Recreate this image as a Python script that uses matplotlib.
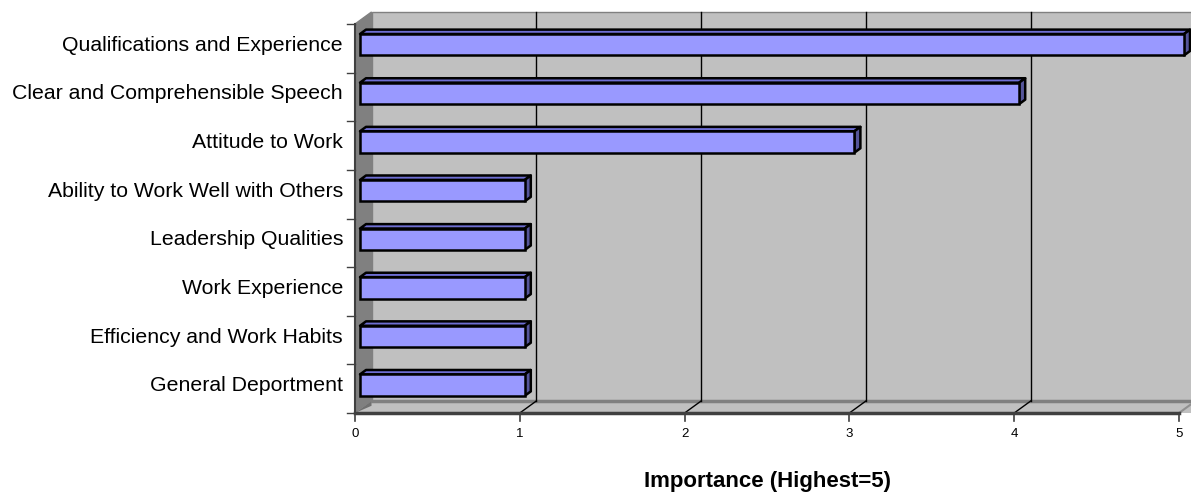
import numpy as np
import matplotlib.pyplot as plt
from matplotlib.patches import Polygon, Rectangle

plt.rcParams['font.family'] = ['Liberation Sans', 'DejaVu Sans']

categories = [
    "Qualifications and Experience",
    "Clear and Comprehensible Speech",
    "Attitude to Work",
    "Ability to Work Well with Others",
    "Leadership Qualities",
    "Work Experience",
    "Efficiency and Work Habits",
    "General Deportment",
]
importance = [5, 4, 3, 1, 1, 1, 1, 1]
xticks = [0, 1, 2, 3, 4, 5]

W, H, DPI = 1191, 496, 100
fig = plt.figure(figsize=(W / DPI, H / DPI), dpi=DPI)
# front plane of the 3D box
left, right, top, bottom = 355, 1179, 24, 413
ax = fig.add_axes([left / W, 1 - bottom / H, (right - left) / W, (bottom - top) / H])

n = len(categories)
xmax = 5
ax.set_xlim(0, xmax)
ax.set_ylim(-0.5, n - 0.5)
ypos = np.arange(n)[::-1]  # first category on top

# pixel -> data units
ux = xmax / (right - left)
uy = n / (bottom - top)

# depth of the walls and of the bars
DX, DY = 16.5 * ux, 12 * uy
bx0, by0 = 5 * ux, 3.6 * uy
bdx, bdy = 6 * ux, 4.4 * uy
bh = 0.44

ax.set_axis_off()

y0, y1 = -0.5, n - 0.5
# back wall
ax.add_patch(Rectangle((DX, y0 + DY), xmax + 1, n, facecolor="#C0C0C0",
                       edgecolor="#808080", lw=1, clip_on=False, zorder=1))
# side wall
ax.add_patch(Polygon([(0, y0), (DX, y0 + DY), (DX, y1 + DY), (0, y1)],
                     closed=True, facecolor="#808080", edgecolor="#808080",
                     lw=1, clip_on=False, zorder=2))
# floor
ax.add_patch(Polygon([(0, y0), (xmax + 1, y0), (xmax + 1, y0 + DY), (DX, y0 + DY)],
                     closed=True, facecolor="#C0C0C0", edgecolor="none",
                     clip_on=False, zorder=2))
ax.add_patch(Polygon([(0, y0), (DX, y0 + DY), (DX, y0 + DY * 0.6)],
                     closed=True, facecolor="#707070", edgecolor="none",
                     clip_on=False, zorder=2))
ax.plot([DX, xmax + 1], [y0 + DY, y0 + DY], color="#808080", lw=2.5,
        clip_on=False, zorder=3)
ax.plot([xmax, xmax + DX], [y0, y0 + DY], color="#909090", lw=1.5,
        clip_on=False, zorder=3)

# gridlines on back wall and floor
for t in xticks[1:]:
    ax.plot([t + DX, t + DX], [y0 + DY, y1 + DY], color="black", lw=1,
            clip_on=False, zorder=3)
    if t < xmax:
        ax.plot([t, t + DX], [y0, y0 + DY], color="black", lw=1,
                clip_on=False, zorder=3)

# axis lines and ticks
ax.plot([0, xmax], [y0, y0], color="#404040", lw=2.5, clip_on=False, zorder=4)
ax.plot([0, 0], [y0, y1], color="#404040", lw=1.5, clip_on=False, zorder=4)
for t in xticks:
    ax.plot([t, t], [y0, y0 - 8 * uy], color="#404040", lw=1.2,
            clip_on=False, zorder=4)
    ax.text(t, y0 - 21 * uy, str(t), ha="center", va="center", fontsize=9.5)
for b in np.arange(n + 1) - 0.5:
    ax.plot([0, -8 * ux], [b, b], color="#404040", lw=1, clip_on=False, zorder=4)

# bars: front face, top face, right side
for y, v, name in zip(ypos, importance, categories):
    yb = y - bh / 2 + by0
    yt = y + bh / 2 + by0
    ax.add_patch(Polygon([(bx0, yt), (v + bx0, yt), (v + bx0 + bdx, yt + bdy),
                          (bx0 + bdx, yt + bdy)], closed=True,
                         facecolor="#6E6ED2", edgecolor="black", lw=1.8,
                         joinstyle="round", clip_on=False, zorder=5))
    ax.add_patch(Polygon([(v + bx0, yb), (v + bx0 + bdx, yb + bdy),
                          (v + bx0 + bdx, yt + bdy), (v + bx0, yt)], closed=True,
                         facecolor="#55559A", edgecolor="black", lw=1.8,
                         joinstyle="round", clip_on=False, zorder=5))
    ax.add_patch(Rectangle((bx0, yb), v, bh, facecolor="#9999FF",
                           edgecolor="black", lw=1.8, clip_on=False, zorder=6))
    ax.text(-12 * ux, y + 3 * uy, name, ha="right", va="center", fontsize=15.3)

ax.text(xmax / 2, y0 - 68 * uy, "Importance (Highest=5)", ha="center",
        va="center", fontsize=16, fontweight="bold")

fig.savefig("out.png", dpi=DPI)
